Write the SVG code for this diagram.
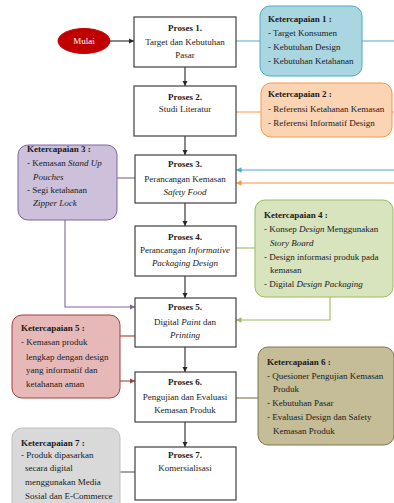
<svg xmlns="http://www.w3.org/2000/svg" width="394" height="503" viewBox="0 0 394 503">
<style>
text{font-family:"Liberation Serif","Times New Roman",serif;font-size:9px;fill:#1a1a1a}
.b{font-weight:bold}
.i{font-style:italic}
.c{text-anchor:middle}
.proc{fill:#fff;stroke:#404040;stroke-width:1.2}
.ln{fill:none;stroke-width:1.1}
</style>
<defs>
<marker id="ak" viewBox="0 0 6 6" refX="6" refY="3" markerWidth="5" markerHeight="5" orient="auto"><path d="M0,0L6,3L0,6z" fill="#262626"/></marker>
<marker id="ab" viewBox="0 0 6 6" refX="6" refY="3" markerWidth="5" markerHeight="5" orient="auto"><path d="M0,0L6,3L0,6z" fill="#4bacc6"/></marker>
<marker id="ao" viewBox="0 0 6 6" refX="6" refY="3" markerWidth="5" markerHeight="5" orient="auto"><path d="M0,0L6,3L0,6z" fill="#f79646"/></marker>
<marker id="ap" viewBox="0 0 6 6" refX="6" refY="3" markerWidth="5" markerHeight="5" orient="auto"><path d="M0,0L6,3L0,6z" fill="#8064a2"/></marker>
<marker id="ag" viewBox="0 0 6 6" refX="6" refY="3" markerWidth="5" markerHeight="5" orient="auto"><path d="M0,0L6,3L0,6z" fill="#9bbb59"/></marker>
<marker id="ar" viewBox="0 0 6 6" refX="6" refY="3" markerWidth="5" markerHeight="5" orient="auto"><path d="M0,0L6,3L0,6z" fill="#a0403e"/></marker>
</defs>

<g id="connectors">
<path class="ln" d="M110,41H134" stroke="#262626" marker-end="url(#ak)"/>
<path class="ln" d="M185,67V86" stroke="#262626" marker-end="url(#ak)"/>
<path class="ln" d="M185,136V155" stroke="#262626" marker-end="url(#ak)"/>
<path class="ln" d="M185,203V226" stroke="#262626" marker-end="url(#ak)"/>
<path class="ln" d="M185,276V298" stroke="#262626" marker-end="url(#ak)"/>
<path class="ln" d="M185,347V372" stroke="#262626" marker-end="url(#ak)"/>
<path class="ln" d="M185,422V447" stroke="#262626" marker-end="url(#ak)"/>
<path class="ln" d="M236,41H260M362,41H394" stroke="#4bacc6"/>
<path class="ln" d="M394,170H236" stroke="#4bacc6" marker-end="url(#ab)"/>
<path class="ln" d="M236,112H261M392,112H394" stroke="#f79646"/>
<path class="ln" d="M394,183H236" stroke="#f79646" marker-end="url(#ao)"/>
<path class="ln" d="M117,178H135" stroke="#8064a2"/>
<path class="ln" d="M65,220V307H135" stroke="#8064a2" marker-end="url(#ap)"/>
<path class="ln" d="M236,248H255" stroke="#9bbb59"/>
<path class="ln" d="M330,297V320H236" stroke="#9bbb59" marker-end="url(#ag)"/>
<path class="ln" d="M120,336H135" stroke="#a0403e"/>
<path class="ln" d="M120,381H135" stroke="#a0403e" marker-end="url(#ar)"/>
<path class="ln" d="M236,398H258" stroke="#7f7650"/>
<path class="ln" d="M120,472H135" stroke="#595959"/>
</g>

<g id="mulai">
<ellipse cx="84" cy="41" rx="26" ry="12.5" fill="#c00000" stroke="#c00000"/>
<text class="c" x="84" y="44" style="fill:#fff">Mulai</text>
</g>

<g id="proses1">
<rect class="proc" x="134" y="17" width="102" height="50"/>
<text class="c b" x="185" y="31">Proses 1.</text>
<text class="c" x="185" y="45">Target dan Kebutuhan</text>
<text class="c" x="185" y="58">Pasar</text>
</g>
<g id="proses2">
<rect class="proc" x="134" y="86" width="102" height="50"/>
<text class="c b" x="185" y="100">Proses 2.</text>
<text class="c" x="185" y="112">Studi Literatur</text>
</g>
<g id="proses3">
<rect class="proc" x="135" y="155" width="101" height="48"/>
<text class="c b" x="185" y="167">Proses 3.</text>
<text class="c" x="185" y="182">Perancangan Kemasan</text>
<text class="c i" x="185" y="195">Safety Food</text>
</g>
<g id="proses4">
<rect class="proc" x="135" y="226" width="101" height="50"/>
<text class="c b" x="185" y="240">Proses 4.</text>
<text class="c" x="185" y="253">Perancangan <tspan class="i">Informative</tspan></text>
<text class="c i" x="185" y="266">Packaging Design</text>
</g>
<g id="proses5">
<rect class="proc" x="135" y="298" width="101" height="49"/>
<text class="c b" x="185" y="310">Proses 5.</text>
<text class="c" x="185" y="325">Digital <tspan class="i">Paint</tspan> dan</text>
<text class="c i" x="185" y="338">Printing</text>
</g>
<g id="proses6">
<rect class="proc" x="135" y="372" width="101" height="50"/>
<text class="c b" x="185" y="385">Proses 6.</text>
<text class="c" x="185" y="400">Pengujian dan Evaluasi</text>
<text class="c" x="185" y="413">Kemasan Produk</text>
</g>
<g id="proses7">
<rect class="proc" x="135" y="447" width="101" height="53"/>
<text class="c b" x="185" y="458">Proses 7.</text>
<text class="c" x="185" y="471">Komersialisasi</text>
</g>

<g id="k1">
<rect x="260" y="6" width="102" height="70" rx="10" fill="#a9d6e1" stroke="#4bacc6"/>
<text class="b" x="268" y="22">Ketercapaian 1 :</text>
<text x="268" y="36">- Target Konsumen</text>
<text x="268" y="50">- Kebutuhan Design</text>
<text x="268" y="64">- Kebutuhan Ketahanan</text>
</g>
<g id="k2">
<rect x="261" y="83" width="131" height="54" rx="10" fill="#fbd4b4" stroke="#f79646"/>
<text class="b" x="268" y="97">Ketercapaian 2 :</text>
<text x="268" y="112">- Referensi Ketahanan Kemasan</text>
<text x="268" y="126">- Referensi Informatif Design</text>
</g>
<g id="k3">
<rect x="18" y="145" width="99" height="75" rx="10" fill="#ccc0da" stroke="#8064a2"/>
<text class="b" x="27" y="152">Ketercapaian 3 :</text>
<text x="27" y="166">- Kemasan <tspan class="i">Stand Up</tspan></text>
<text class="i" x="33" y="180">Pouches</text>
<text x="27" y="193">- Segi ketahanan</text>
<text class="i" x="33" y="206">Zipper Lock</text>
</g>
<g id="k4">
<rect x="255" y="200" width="138" height="97" rx="10" fill="#d7e4bd" stroke="#9bbb59"/>
<text class="b" x="264" y="218">Ketercapaian 4 :</text>
<text x="264" y="232">- Konsep <tspan class="i">Design</tspan> Menggunakan</text>
<text class="i" x="270" y="246">Story Board</text>
<text x="264" y="260">- Design informasi produk pada</text>
<text x="270" y="273">kemasan</text>
<text x="264" y="287">- Digital <tspan class="i">Design Packaging</tspan></text>
</g>
<g id="k5">
<rect x="12" y="315" width="108" height="83" rx="10" fill="#e6b9b8" stroke="#a0403e"/>
<text class="b" x="21" y="331">Ketercapaian 5 :</text>
<text x="21" y="345">- Kemasan produk</text>
<text x="26" y="360">lengkap dengan design</text>
<text x="26" y="373">yang informatif dan</text>
<text x="26" y="387">ketahanan aman</text>
</g>
<g id="k6">
<rect x="258" y="347" width="136" height="98" rx="10" fill="#c4bd97" stroke="#7f7650"/>
<text class="b" x="267" y="365">Ketercapaian 6 :</text>
<text x="267" y="379">- Quesioner Pengujian Kemasan</text>
<text x="273" y="392">Produk</text>
<text x="267" y="406">- Kebutuhan Pasar</text>
<text x="267" y="420">- Evaluasi Design dan Safety</text>
<text x="273" y="434">Kemasan Produk</text>
</g>
<g id="k7">
<rect x="12" y="428" width="108" height="85" rx="10" fill="#d9d9d9" stroke="#bfbfbf"/>
<text class="b" x="21" y="446">Ketercapaian 7 :</text>
<text x="21" y="458">- Produk dipasarkan</text>
<text x="25" y="471">secara digital</text>
<text x="25" y="485">menggunakan Media</text>
<text x="25" y="499">Sosial dan E-Commerce</text>
</g>
</svg>
